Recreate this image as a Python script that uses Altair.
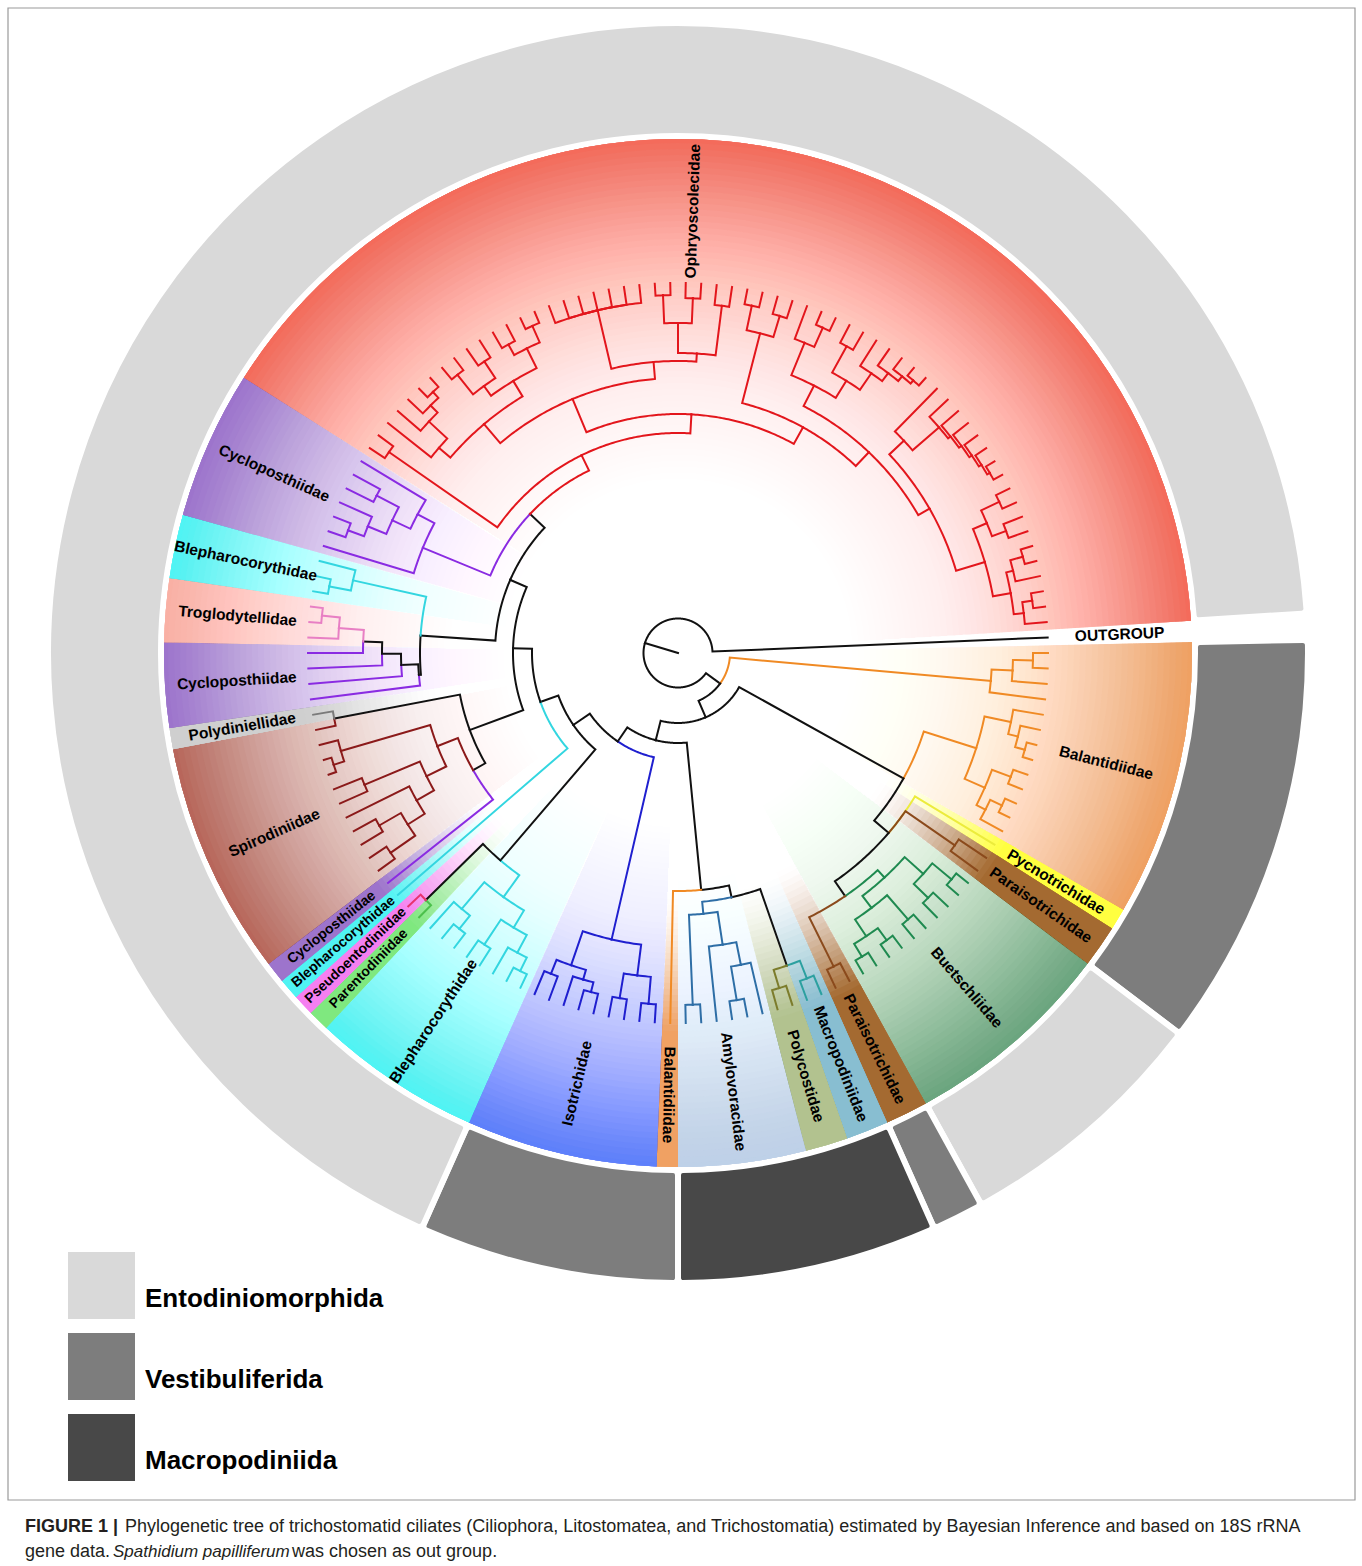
import math
import altair as alt
import pandas as pd

alt.data_transformers.disable_max_rows()

# ---------------------------------------------------------------- data
W, H = 1362, 1566
CX, CY = 678.0, 653.0
N_TIPS = 150
STEP = 360.0 / N_TIPS
TIP_R = 370.0
WEDGE_IN, WEDGE_OUT = 120.0, 514.0
RING_IN, RING_OUT = 517.0, 630.0
LABEL_R = 442.0

# Tree topology; the number after each ")" is the radial depth of that node
CLADES = {
    "ROOT": "(<ING>,OUT)34.5",
    "ING": "(<BalA>,<REST>)52",
    "BalA": "(((BAL,BAL)355,BAL)335,BAL)314",
    "REST": "(<X>,<Y>)70",
    "X": "(<BalB>,<Z>)258",
    "BalB": "((BAL,(BAL,(BAL,BAL)360)350)340,((BAL,BAL)355,((BAL,BAL)358,BAL)345)335)313",
    "Z": "(PYC,(PAR,PAR)337,<W>)277",
    "W": "(<Buet>,(PAR,PAR)350)295",
    "Buet": "(((BUE,BUE)355,(BUE,BUE)350)330,((BUE,BUE)352,((BUE,BUE)355,(BUE,BUE)355)340)320)305",
    "Y": "(<AM>,<N108>)90",
    "AM": "((<PM>,<Amylo>)250,BAL)238",
    "PM": "((MAC,MAC)350,(POL,POL)350)331",
    "Amylo": "(((AMY,(AMY,AMY)352)318,AMY)295,(AMY,AMY)352)262",
    "N108": "(<Iso>,<N127>)107",
    "Iso": "(((ISO,ISO)352,(ISO,ISO)350)325,(((ISO,ISO)350,ISO)340,(ISO,ISO)345)330)294",
    "N127": "(<BPP>,<N146>)127",
    "BPP": "(<Bleph8>,(PRT,PSE)353)273",
    "Bleph8": "((((BLE,BLE)355,BLE)340,(BLE,BLE)350)320,((BLE,BLE)352,BLE)335)300",
    "N146": "(BLE,<Q>)146",
    "Q": "(<SG>,<R>)165",
    "SG": "((CYC,<Spiro>)236,(SPI,PLD)350)222",
    "Spiro": "(((((SPI,SPI)350,(SPI,SPI)345)320,SPI)300,(SPI,SPI)340)280,((SPI,SPI)362,SPI)351)258",
    "R": "(<S>,<P>)183",
    "S": "((CYC,(CYC,(CYC,(CYC,(TRO,(TRO,TRO)358)340)315)296)277)260,((BLE,BLE)355,BLE)333)258",
    "P": "(<Cyclo1>,<Oph>)203",
    "Cyclo1": "(CYC,((((CYC,CYC)352,CYC)335,(CYC,CYC)340)315,CYC)295)276",
    "Oph": "((OPH,OPH)352,(<OphA>,<OphB>)239)220",
    "OphA": "(((OPH,(OPH,(OPH,(OPH,OPH)358)350)340)315,(((OPH,OPH)355,(OPH,OPH)350)330,"
            "((OPH,OPH)352,(OPH,OPH)358)340)318)300,((OPH,OPH,OPH,OPH,OPH,OPH,OPH)352,"
            "(((OPH,OPH)358,(OPH,OPH)355)330,(OPH,OPH)350)300)292)275",
    "OphB": "(((OPH,OPH)355,(OPH,OPH)352)330,(<OphC>,<OphD>)277)258",
    "OphC": "((OPH,(OPH,OPH)356)335,((OPH,OPH)350,(OPH,(OPH,(OPH,(OPH,OPH)360)356)350)340)320)300",
    "OphD": "((OPH,(OPH,(OPH,(OPH,(OPH,(OPH,(OPH,OPH)360)357)354)351)348)345)310,"
            "(((OPH,OPH)355,(OPH,OPH)350)335,(((OPH,OPH)358,OPH)345,((OPH,OPH)358,OPH)348)338)320)290",
}

FAMILY_NAME = {
    "OPH": "Ophryoscolecidae", "CYC": "Cycloposthiidae", "BLE": "Blepharocorythidae",
    "TRO": "Troglodytellidae", "PLD": "Polydiniellidae", "SPI": "Spirodiniidae",
    "PSE": "Pseudoentodiniidae", "PRT": "Parentodiniidae", "ISO": "Isotrichidae",
    "BAL": "Balantidiidae", "AMY": "Amylovoracidae", "POL": "Polycostidae",
    "MAC": "Macropodiniidae", "PAR": "Paraisotrichidae", "BUE": "Buetschliidae",
    "PYC": "Pycnotrichidae", "OUT": "OUTGROUP",
}
BRANCH_COLOR = {
    "OPH": "#e3161c", "CYC": "#8a2be2", "BLE": "#33d6e0", "TRO": "#e87fc4", "PLD": "#7a7a7a",
    "SPI": "#8b1a1a", "PSE": "#e8336e", "PRT": "#4cc04c", "ISO": "#1f1fcf", "BAL": "#f08a24",
    "AMY": "#2e6ea6", "POL": "#7c7c2c", "MAC": "#2ca0a0", "PAR": "#8b4a1c", "BUE": "#1f8a50",
    "PYC": "#ecec3c", "OUT": "#111111", "MIX": "#111111",
}
WEDGE_COLOR = {
    "OPH": "#f36b5a", "CYC": "#9d74cc", "BLE": "#4ff3f3", "TRO": "#f9b0a4", "PLD": "#cfcfcf",
    "SPI": "#b8665a", "PSE": "#f57ff0", "PRT": "#7fe87f", "ISO": "#5d7ffa", "BAL": "#efa062",
    "AMY": "#bdd0e8", "POL": "#b2c28e", "MAC": "#88bdd0", "PAR": "#a46a30", "BUE": "#6aa57e",
    "PYC": "#ffff40",
}
LABEL_TIP_OVERRIDE = {"OPH": 114.3}

ORDERS = ["Entodiniomorphida", "Vestibuliferida", "Macropodiniida"]
ORDER_COLORS = ["#d9d9d9", "#7d7d7d", "#484848"]
RING_RUNS = [("Vestibuliferida", 16), ("Entodiniomorphida", 10), ("Vestibuliferida", 2),
             ("Macropodiniida", 10), ("Vestibuliferida", 10), ("Entodiniomorphida", 101)]

CAPTION = [
    ("FIGURE 1 |", "bold", 25, 1532),
    ("Phylogenetic tree of trichostomatid ciliates (Ciliophora, Litostomatea, and Trichostomatia) "
     "estimated by Bayesian Inference and based on 18S rRNA", "normal", 125, 1532),
    ("gene data.", "normal", 25, 1557),
    ("Spathidium papilliferum", "italic", 113, 1557),
    ("was chosen as out group.", "normal", 292, 1557),
]


# ---------------------------------------------------------------- tree layout
def expand(name):
    s, out, i = CLADES[name], "", 0
    while i < len(s):
        if s[i] == "<":
            j = s.index(">", i)
            out += expand(s[i + 1:j])
            i = j + 1
        else:
            out += s[i]
            i += 1
    return out


def parse(s):
    pos = [0]

    def number():
        j = pos[0]
        while j < len(s) and (s[j].isdigit() or s[j] == "."):
            j += 1
        v = float(s[pos[0]:j])
        pos[0] = j
        return v

    def node():
        if s[pos[0]] == "(":
            pos[0] += 1
            kids = [node()]
            while s[pos[0]] == ",":
                pos[0] += 1
                kids.append(node())
            assert s[pos[0]] == ")"
            pos[0] += 1
            return {"kids": kids, "r": number()}
        j = pos[0]
        while j < len(s) and s[j].isalpha():
            j += 1
        name = s[pos[0]:j]
        pos[0] = j
        return {"fam": name, "r": TIP_R}

    return node()


root = parse(expand("ROOT"))
tips = []


def layout(n):
    if "fam" in n:
        tips.append(n)
        n["t"] = float(len(tips))
        n["fams"] = {n["fam"]}
    else:
        for k in n["kids"]:
            layout(k)
        n["t"] = sum(k["t"] for k in n["kids"]) / len(n["kids"])
        n["fams"] = set().union(*(k["fams"] for k in n["kids"]))


layout(root)
assert len(tips) == N_TIPS, len(tips)


def alpha(t):
    return STEP * (1.0 - t)


def xy(r, a):
    ar = math.radians(a)
    return CX + r * math.cos(ar), CY - r * math.sin(ar)


seg_rows = []
seg_counter = [0]


def add_seg(points, col):
    for k, (x, y) in enumerate(points):
        seg_rows.append({"seg": seg_counter[0], "k": k, "x": x, "y": y, "col": col})
    seg_counter[0] += 1


def branch_color(n):
    return BRANCH_COLOR[next(iter(n["fams"]))] if len(n["fams"]) == 1 else BRANCH_COLOR["MIX"]


def draw(n):
    for k in n.get("kids", []):
        a0, a1 = alpha(n["t"]), alpha(k["t"])
        steps = max(1, int(math.ceil(abs(a1 - a0) / 0.5)))
        pts = [xy(n["r"], a0 + (a1 - a0) * i / steps) for i in range(steps + 1)]
        pts.append(xy(k["r"], a1))
        add_seg(pts, branch_color(k))
        draw(k)


add_seg([xy(0, alpha(root["t"])), xy(root["r"], alpha(root["t"]))], BRANCH_COLOR["MIX"])
draw(root)
seg_df = pd.DataFrame(seg_rows)

# family runs (contiguous tips of one family)
runs = []
for tp in tips:
    if runs and runs[-1]["fam"] == tp["fam"]:
        runs[-1]["t1"] = tp["t"]
        runs[-1]["n"] += 1
    else:
        runs.append({"fam": tp["fam"], "t0": tp["t"], "t1": tp["t"], "n": 1})


def theta_pair(t0, t1):
    a_start = alpha(t0 - 0.5)
    a_end = alpha(t1 + 0.5)
    return math.radians(90 - a_start), math.radians(90 - a_end)


# gradient wedges: cumulative translucent bands
wedge_rows = []
band = 6.0
for run in runs:
    if run["fam"] == "OUT":
        continue
    th0, th1 = theta_pair(run["t0"], run["t1"])
    small = run["n"] <= 2
    prev = 0.0
    r = WEDGE_IN
    while r < WEDGE_OUT - 0.5:
        rm = r + band / 2
        if small:
            T = min(1.0, max(0.0, (rm - 240.0) / 140.0)) ** 1.4
        else:
            T = max(0.0, (rm - WEDGE_IN) / (WEDGE_OUT - WEDGE_IN)) ** 2.4
        T = min(T, 0.995)
        if T > prev:
            op = 1 - (1 - T) / (1 - prev)
            wedge_rows.append({"th0": th0, "th1": th1, "r0": r, "r1": WEDGE_OUT,
                               "col": WEDGE_COLOR[run["fam"]], "op": op})
            prev = T
        r += band
wedge_df = pd.DataFrame(wedge_rows)

# ring of orders
ring_rows = []
t = 1
for order, n in RING_RUNS:
    th0, th1 = theta_pair(t, t + n - 1)
    ring_rows.append({"order": order, "th0": th0, "th1": th1, "ri": RING_IN, "ro": RING_OUT})
    t += n
ring_df = pd.DataFrame(ring_rows)

# labels
label_rows = []
for run in runs:
    tc = LABEL_TIP_OVERRIDE.get(run["fam"], (run["t0"] + run["t1"]) / 2)
    a = alpha(tc)
    a = (a + 180) % 360 - 180
    rot = -a if -95 <= a <= 95 else 180 - a
    x, y = xy(LABEL_R, a)
    fs = 14.0 if (run["fam"] in ("PRT", "PSE") or (run["n"] == 1 and run["fam"] in ("BLE", "CYC"))) else 15.5
    label_rows.append({"x": x, "y": y, "ang": rot % 360, "name": FAMILY_NAME[run["fam"]], "fs": fs})
label_df = pd.DataFrame(label_rows)

cap_df = pd.DataFrame(CAPTION, columns=["text", "style", "x", "y"])

# ---------------------------------------------------------------- chart
xs = alt.X("x:Q", scale=alt.Scale(domain=[0, W], nice=False, zero=False), axis=None)
ys = alt.Y("y:Q", scale=alt.Scale(domain=[0, H], nice=False, zero=False, reverse=True), axis=None)

frame = alt.Chart(pd.DataFrame({"x": [8], "x2": [1355], "y": [8], "y2": [1500]})).mark_rect(
    filled=False, stroke="#9a9a9a", strokeWidth=1.2
).encode(x=xs, x2="x2:Q", y=ys, y2="y2:Q")

ring = alt.Chart(ring_df).mark_arc(stroke="white", strokeWidth=6, cornerRadius=5).encode(
    theta=alt.Theta("th0:Q", scale=None, stack=None),
    theta2="th1:Q",
    radius=alt.Radius("ro:Q", scale=None),
    radius2="ri:Q",
    color=alt.Color(
        "order:N",
        scale=alt.Scale(domain=ORDERS, range=ORDER_COLORS),
        legend=alt.Legend(
            orient="none", legendX=68, legendY=1252, title=None, direction="vertical",
            symbolType="square", symbolSize=4489, symbolStrokeWidth=0, symbolOpacity=1,
            labelFont="Liberation Sans", labelFontWeight="bold", labelFontSize=26,
            labelColor="black", labelLimit=500, rowPadding=14, labelOffset=10,
            labelBaseline="top", padding=0,
        ),
    ),
    x=alt.value(CX),
    y=alt.value(CY),
)

wedges = alt.Chart(wedge_df).mark_arc().encode(
    theta=alt.Theta("th0:Q", scale=None, stack=None),
    theta2="th1:Q",
    radius=alt.Radius("r1:Q", scale=None),
    radius2="r0:Q",
    fill=alt.Fill("col:N", scale=None),
    fillOpacity=alt.FillOpacity("op:Q", scale=None),
    x=alt.value(CX),
    y=alt.value(CY),
)

branches = alt.Chart(seg_df).mark_line(strokeWidth=2, strokeJoin="miter", strokeCap="square").encode(
    x=xs, y=ys, detail="seg:N", order="k:Q", stroke=alt.Stroke("col:N", scale=None)
)

labels = alt.Chart(label_df).mark_text(
    font="Liberation Sans", fontWeight="bold", align="center", baseline="middle", color="black"
).encode(x=xs, y=ys, text="name:N", angle=alt.Angle("ang:Q", scale=None), size=alt.Size("fs:Q", scale=None))

cap_base = alt.Chart(cap_df)
cap_bold = cap_base.transform_filter(alt.datum.style == "bold").mark_text(
    font="Liberation Sans", fontWeight="bold", fontSize=18, align="left", baseline="alphabetic", color="#231f20"
).encode(x=xs, y=ys, text="text:N")
cap_norm = cap_base.transform_filter(alt.datum.style == "normal").mark_text(
    font="Liberation Sans", fontSize=18, align="left", baseline="alphabetic", color="#231f20"
).encode(x=xs, y=ys, text="text:N")
cap_ital = cap_base.transform_filter(alt.datum.style == "italic").mark_text(
    font="Liberation Sans", fontStyle="italic", fontSize=17, align="left", baseline="alphabetic", color="#231f20"
).encode(x=xs, y=ys, text="text:N")

chart = alt.layer(frame, ring, wedges, branches, labels, cap_bold, cap_norm, cap_ital).properties(
    width=W, height=H, padding=0, autosize=alt.AutoSizeParams(type="none")
).configure_view(strokeWidth=0)

chart.save("out.html", embed_options={"renderer": "svg", "actions": False})
